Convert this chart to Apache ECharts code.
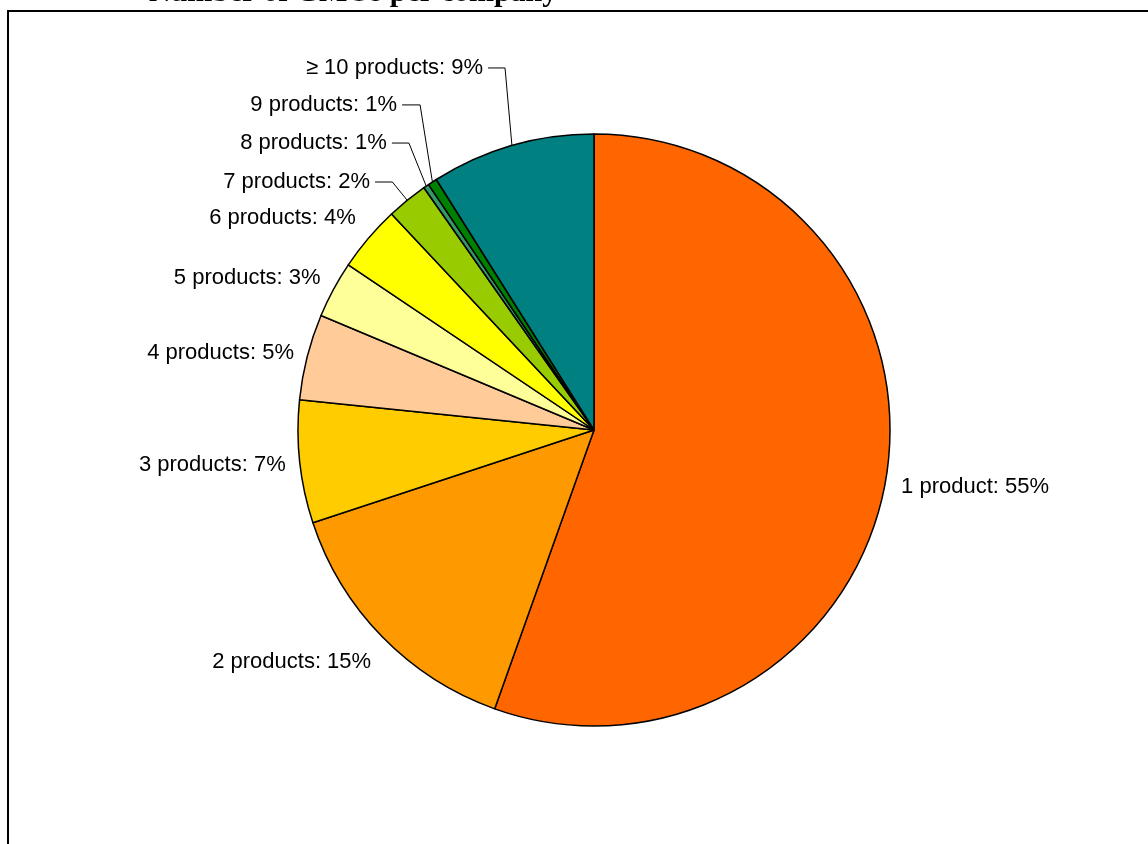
<!DOCTYPE html>
<html>
<head>
<meta charset="utf-8">
<script src="https://cdn.jsdelivr.net/npm/echarts@6/dist/echarts.min.js"></script>
<style>html,body{margin:0;padding:0;background:#fff}#c{width:1148px;height:844px}</style>
</head>
<body>
<div id="c"></div>
<script>
// ---- data ----
const categories = ['1 product', '2 products', '3 products', '4 products', '5 products', '6 products', '7 products', '8 products', '9 products', '\u2265 10 products'];
const shares = [55.5, 14.5, 6.7, 4.7, 3.1, 3.6, 2.25, 0.3, 0.5, 8.95];
const shownPercent = [55, 15, 7, 5, 3, 4, 2, 1, 1, 9];
const titleText = 'Number of GMOs per company';

// ---- styling (not data) ----
const colors = ['#FF6600', '#FF9900', '#FFCC00', '#FFCC99', '#FFFF99', '#FFFF00', '#99CC00', '#339966', '#008000', '#008080'];
const labelLen = [40.5, 36.2, 28, 15.7, 24.6, 31.1, 23.6, 52.3, 92, 80.8];
const labelLen2 = [-29.5, -19.8, -18.8, -7, -13.8, -16.1, 17.4, 4.7, -19.9, 1.5];
const showLine = [false, false, false, false, false, false, true, true, true, true];
const elbow = [0, 0, 0, 0, 0, 0, 0, 17, 18, 17];

const chart = echarts.init(document.getElementById('c'), null, {renderer: 'canvas'});
const pieData = categories.map((name, i) => ({
  name: name,
  value: shares[i],
  itemStyle: {color: colors[i]},
  labelLine: {show: showLine[i], length: labelLen[i], length2: labelLen2[i]}
}));

chart.setOption({
  animation: false,
  backgroundColor: '#fff',
  title: {
    text: titleText,
    left: 149, top: -22, padding: 0,
    textStyle: {fontFamily: 'Liberation Serif', fontWeight: 'bold', fontSize: 30, color: '#000'}
  },
  graphic: [{
    type: 'rect', z: -1, silent: true,
    shape: {x: 8, y: 11, width: 1300, height: 1000},
    style: {fill: 'none', stroke: '#000', lineWidth: 2}
  }],
  series: [{
    type: 'pie',
    center: [594, 430],
    radius: 296,
    startAngle: 90,
    clockwise: true,
    avoidLabelOverlap: false,
    minAngle: 0,
    data: pieData,
    itemStyle: {borderColor: '#000', borderWidth: 1.5},
    emphasis: {disabled: true},
    label: {
      show: true,
      position: 'outside',
      color: '#000',
      fontFamily: 'Liberation Sans',
      fontSize: 22,
      distanceToLabelLine: 5,
      formatter: p => categories[p.dataIndex] + ': ' + shownPercent[p.dataIndex] + '%'
    },
    labelLine: {lineStyle: {color: '#000', width: 1}},
    labelLayout: function (params) {
      const i = params.dataIndex;
      const pts = params.labelLinePoints;
      if (elbow[i] && pts && pts.length >= 3) {
        const end = pts[pts.length - 1];
        return {labelLinePoints: [pts[0], [end[0] + elbow[i], end[1]], end]};
      }
      return {};
    }
  }]
});
</script>
</body>
</html>
